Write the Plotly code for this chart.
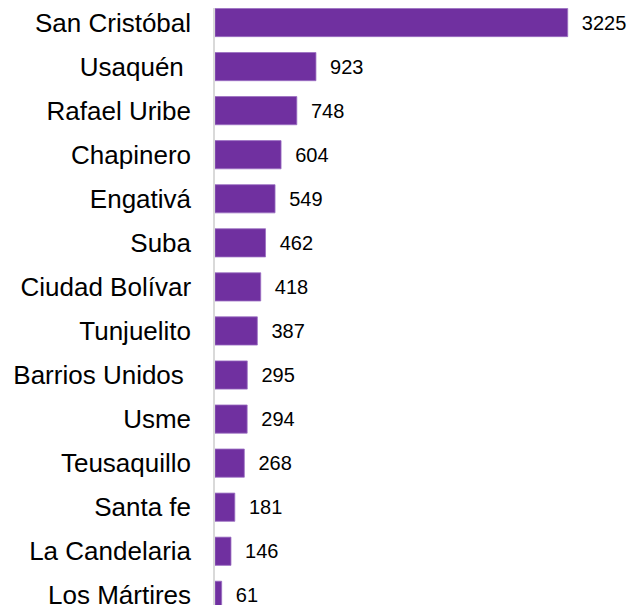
import plotly.graph_objects as go

categories = ["San Cristóbal", "Usaquén\u00a0", "Rafael Uribe", "Chapinero", "Engativá", "Suba",
              "Ciudad Bolívar", "Tunjuelito", "Barrios Unidos\u00a0", "Usme", "Teusaquillo",
              "Santa fe", "La Candelaria", "Los Mártires"]
values = [3225, 923, 748, 604, 549, 462, 418, 387, 295, 294, 268, 181, 146, 61]

labels = ["\u00a0\u00a0" + str(v) for v in values]

fig = go.Figure(go.Bar(
    x=values,
    y=categories,
    orientation="h",
    width=0.64,
    marker=dict(color="#7030A0", line=dict(color="#9a6fc2", width=0.8)),
    text=labels,
    textposition="outside",
    textfont=dict(family="Liberation Sans, Arial, sans-serif", size=20, color="#000000"),
    cliponaxis=False,
    hoverinfo="skip",
))

# page body has an 8px margin; the figure is sized to fill the rest of the window
fig.update_layout(
    width=632,
    height=602,
    margin=dict(l=207, r=0, t=0, b=0),
    paper_bgcolor="white",
    plot_bgcolor="white",
    showlegend=False,
    xaxis=dict(range=[0, 3886], visible=False, showgrid=False, zeroline=False),
    yaxis=dict(
        type="category",
        categoryorder="array",
        categoryarray=categories,
        range=[13.22, -0.33],
        showline=True,
        linecolor="#d9d9d9",
        linewidth=1.5,
        showgrid=False,
        zeroline=False,
        ticks="",
        ticklabelstandoff=17,
        tickfont=dict(family="Liberation Sans, Arial, sans-serif", size=26, color="#000000"),
    ),
)

fig.write_html("out.html")
